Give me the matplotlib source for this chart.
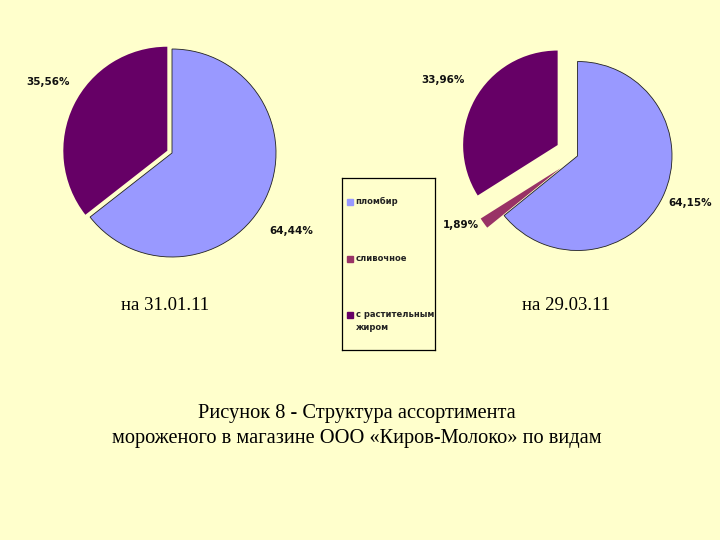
"""Ice cream assortment structure: two pies with a shared legend."""

import matplotlib.pyplot as plt
from matplotlib.patches import Rectangle

W, H = 720, 540
BG = "#FFFFCC"

categories = ["пломбир", "сливочное", "с растительным\nжиром"]
colors = ["#9999FF", "#993366", "#660066"]

# left pie (на 31.01.11): no "сливочное" slice
left_values = [64.44, 35.56]
left_colors = [colors[0], colors[2]]
left_explode = [0.0, 0.05]
left_labels = ["64,44%", "35,56%"]

# right pie (на 29.03.11)
right_values = [64.15, 1.89, 33.96]
right_explode = [0.0, 0.22, 0.24]
right_labels = ["64,15%", "1,89%", "33,96%"]

subtitles = ["на 31.01.11", "на 29.03.11"]
caption = "Рисунок 8 - Структура ассортимента\nмороженого в магазине ООО «Киров-Молоко» по видам"


def fx(x):
    return x / W


def fy(y):
    return 1 - y / H


def pie_axes(fig, cx, cy, r, values, cols, explode, half=1.5):
    # square axes in pixel space, pie of radius 1 maps to r pixels
    s = half * r
    ax = fig.add_axes([fx(cx - s), fy(cy + s), 2 * s / W, 2 * s / H])
    wedges, _ = ax.pie(values, colors=cols, explode=explode,
                       startangle=90, counterclock=False, radius=1)
    # pie() resets the limits, so set them afterwards
    ax.set_xlim(-half, half)
    ax.set_ylim(-half, half)
    ax.axis("off")
    wedges[0].set_edgecolor("#222222")
    wedges[0].set_linewidth(0.6)
    return ax


fig = plt.figure(figsize=(W / 100, H / 100), dpi=100, facecolor=BG)

lab_font = dict(fontsize=7.5, fontweight="bold", family="DejaVu Sans",
                ha="center", va="center", color="#111111")

# left pie
pie_axes(fig, 172, 153, 104, left_values, left_colors, left_explode)
for pos, txt in zip([(291, 231), (48, 82)], left_labels):
    fig.text(fx(pos[0]), fy(pos[1]), txt, **lab_font)

# right pie
pie_axes(fig, 577.5, 156, 94.5, right_values, colors, right_explode)
for pos, txt in zip([(690, 203), (461, 225), (443, 80)], right_labels):
    fig.text(fx(pos[0]), fy(pos[1]), txt, **lab_font)

# legend box drawn in pixel coords
lx0, ly0, lx1, ly1 = 342, 178, 435, 350
lax = fig.add_axes([fx(lx0), fy(ly1), (lx1 - lx0) / W, (ly1 - ly0) / H])
lax.set_xlim(lx0, lx1)
lax.set_ylim(ly1, ly0)
lax.set_facecolor(BG)
for sp in lax.spines.values():
    sp.set_color("black")
    sp.set_linewidth(0.9)
lax.set_xticks([])
lax.set_yticks([])
for ypos, name, col in zip([202, 259, 315], categories, colors):
    lax.add_patch(Rectangle((346.5, ypos - 3.5), 6, 6, color=col))
    lax.text(355.5, ypos - 5, name, fontsize=6, fontweight="bold",
             family="DejaVu Sans", ha="left", va="top", color="#222222",
             linespacing=1.5)

# subtitles and caption
serif = dict(family="Liberation Serif", color="black", ha="center", va="center")
fig.text(fx(165), fy(306), subtitles[0], fontsize=13.5, **serif)
fig.text(fx(566), fy(306), subtitles[1], fontsize=13.5, **serif)
fig.text(fx(357), fy(426), caption, fontsize=14.7, linespacing=1.4, **serif)

fig.savefig("out.png", dpi=100, facecolor=BG)
